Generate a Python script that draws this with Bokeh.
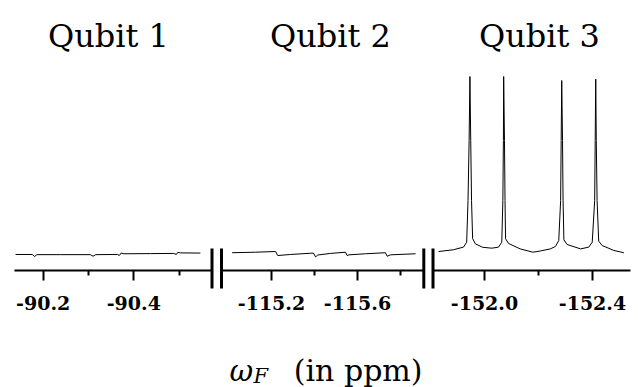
from bokeh.plotting import figure
from bokeh.layouts import row
from bokeh.models import Range1d, LinearAxis, FixedTicker, PrintfTickFormatter
from bokeh.core.properties import value
from bokeh.embed import file_html
from bokeh.resources import INLINE

# ---------------- data ----------------
titles = ["Qubit 1", "Qubit 2", "Qubit 3"]

q1_ppm = [-90.139, -90.176, -90.181, -90.186, -90.238, -90.304, -90.310, -90.316,
          -90.364, -90.368, -90.372, -90.378, -90.437, -90.488, -90.494, -90.497,
          -90.503, -90.547]
q1_int = [-0.017, -0.017, -0.029, -0.018, -0.018, -0.018, -0.027, -0.018,
          -0.017, -0.023, -0.009, -0.013, -0.012, -0.011, -0.017, -0.005,
          -0.008, -0.009]

q2_ppm = [-115.017, -115.126, -115.219, -115.229, -115.288, -115.381, -115.395,
          -115.405, -115.415, -115.474, -115.544, -115.552, -115.561, -115.637,
          -115.730, -115.738, -115.754, -115.870]
q2_int = [-0.007, -0.004, 0.000, -0.023, -0.017, -0.010, -0.009,
          -0.031, -0.020, -0.011, -0.004, -0.023, -0.019, -0.013,
          -0.007, -0.027, -0.019, -0.013]

q3_ppm = [-151.830, -151.885, -151.922, -151.934, -151.939, -151.943, -151.946,
          -151.949, -151.952, -151.956, -151.966, -151.993, -152.027, -152.052,
          -152.064, -152.068, -152.070, -152.071, -152.074, -152.076, -152.078,
          -152.089, -152.132, -152.179, -152.207, -152.244, -152.263, -152.275,
          -152.282, -152.284, -152.286, -152.289, -152.291, -152.294, -152.306,
          -152.356, -152.386, -152.399, -152.408, -152.410, -152.412, -152.414,
          -152.417, -152.423, -152.436, -152.479, -152.516]
q3_int = [0.000, 0.010, 0.025, 0.053, 0.291, 0.634, 1.000,
          0.634, 0.291, 0.074, 0.044, 0.024, 0.019, 0.025,
          0.053, 0.291, 0.634, 1.000, 0.634, 0.291, 0.073,
          0.046, 0.015, -0.004, 0.003, 0.015, 0.029, 0.063,
          0.291, 0.634, 0.977, 0.634, 0.291, 0.067, 0.040,
          0.015, 0.025, 0.053, 0.291, 0.634, 0.985, 0.634,
          0.291, 0.059, 0.034, 0.006, -0.007]

q1_major = [-90.2, -90.4]
q1_minor = [-90.3, -90.5]
q2_major = [-115.2, -115.6]
q2_minor = [-115.4, -115.8]
q3_major = [-152.0, -152.4]
q3_minor = [-152.2]

# ---------------- layout (page pixels) ----------------
PAGE_TOP = 0
HEIGHT = 387
Y_BASE = 251.0      # page y of zero intensity
Y_SCALE = 175.0     # px per intensity unit
AXIS_Y = 269.5
BREAK_TOP, BREAK_BOT = 248.0, 288.0
TITLE_BASE = 35.0
XLABEL_BASE = 370.0


def yd(Y):
    return (Y_BASE - Y) / Y_SCALE


panels = [
    dict(edges=(0, 216), ref=(-90.2, 42.7, 453.0), axis=(14, 211), breaks=[211.5],
         title_x=108, ppm=q1_ppm, inten=q1_int, major=q1_major, minor=q1_minor),
    dict(edges=(216, 428), ref=(-115.2, 271.0, 215.0), axis=(221, 423), breaks=[221, 423.3],
         title_x=330, ppm=q2_ppm, inten=q2_int, major=q2_major, minor=q2_minor),
    dict(edges=(428, 638), ref=(-152.0, 484.0, 270.0), axis=(433, 630), breaks=[432.5],
         title_x=539, ppm=q3_ppm, inten=q3_int, major=q3_major, minor=q3_minor),
]

SERIF = "DejaVu Serif"
figs = []
for i, pn in enumerate(panels):
    rv, rpx, ppx = pn["ref"]

    def xd(X, rv=rv, rpx=rpx, ppx=ppx):
        return rv - (X - rpx) / ppx

    left, right = pn["edges"]
    p = figure(width=right - left, height=HEIGHT,
               x_range=Range1d(xd(left), xd(right)),
               y_range=Range1d(yd(PAGE_TOP + HEIGHT), yd(PAGE_TOP)),
               x_axis_location=None, y_axis_location=None,
               toolbar_location=None, output_backend="svg",
               min_border=0, min_border_left=0, min_border_right=0,
               min_border_top=0, min_border_bottom=0)
    p.outline_line_color = None
    p.background_fill_color = "white"
    p.border_fill_color = "white"
    p.xgrid.visible = False
    p.ygrid.visible = False

    ax = LinearAxis(
        ticker=FixedTicker(ticks=pn["major"], minor_ticks=pn["minor"]),
        formatter=PrintfTickFormatter(format="%.1f"),
        fixed_location=yd(AXIS_Y),
        bounds=tuple(sorted((xd(pn["axis"][0]), xd(pn["axis"][1])))),
    )
    ax.axis_line_width = 2
    ax.axis_line_color = "black"
    ax.major_tick_line_width = 2
    ax.minor_tick_line_width = 2
    ax.major_tick_line_color = "black"
    ax.minor_tick_line_color = "black"
    ax.major_tick_in = 0
    ax.major_tick_out = 10
    ax.minor_tick_in = 0
    ax.minor_tick_out = 5
    ax.major_label_text_font = SERIF
    ax.major_label_text_font_style = "bold"
    ax.major_label_text_font_size = "19px"
    ax.major_label_text_color = "black"
    ax.major_label_standoff = 16
    p.add_layout(ax, "below")

    # spectrum
    p.line(pn["ppm"], pn["inten"], line_color="black", line_width=1)

    # axis-break marks
    bx = [xd(b) for b in pn["breaks"]]
    p.segment(x0=bx, x1=bx, y0=[yd(BREAK_TOP)] * len(bx), y1=[yd(BREAK_BOT)] * len(bx),
              line_color="black", line_width=3)

    # panel title
    p.text(x=[xd(pn["title_x"])], y=[yd(TITLE_BASE)], text=[titles[i]],
           text_font=value(SERIF), text_font_size=value("32px"),
           text_align="center", text_baseline="alphabetic", text_color="black")

    if i == 1:
        p.text(x=[xd(229)], y=[yd(XLABEL_BASE)], text=["ω"], text_font=value(SERIF),
               text_font_style="italic", text_font_size=value("29px"),
               text_align="left", text_baseline="alphabetic", text_color="black")
        p.text(x=[xd(253)], y=[yd(XLABEL_BASE + 5)], text=["F"], text_font=value(SERIF),
               text_font_style="italic", text_font_size=value("21px"),
               text_align="left", text_baseline="alphabetic", text_color="black")
        p.text(x=[xd(422)], y=[yd(XLABEL_BASE)], text=["(in ppm)"], text_font=value(SERIF),
               text_font_size=value("30px"),
               text_align="right", text_baseline="alphabetic", text_color="black")
    figs.append(p)

layout = row(*figs, spacing=0)
open("out.html", "w").write(file_html(layout, INLINE))
